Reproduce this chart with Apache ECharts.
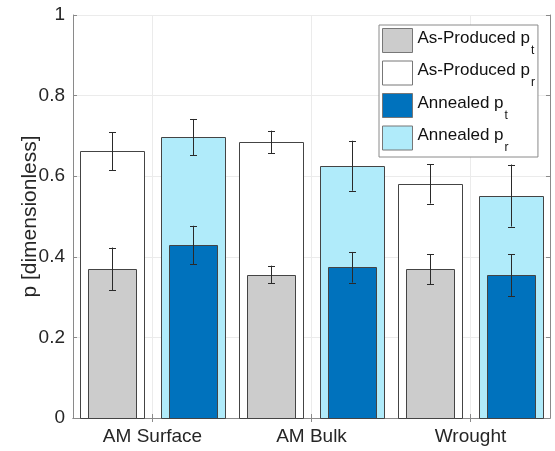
<!DOCTYPE html>
<html>
<head>
<meta charset="utf-8">
<script src="https://cdn.jsdelivr.net/npm/echarts@6/dist/echarts.min.js"></script>
<style>
html,body{margin:0;padding:0;background:#fff;}
#chart{width:555px;height:451px;}
</style>
</head>
<body>
<div id="chart"></div>
<script>
var categories = ['AM Surface', 'AM Bulk', 'Wrought'];
var yTicks = [0, 0.2, 0.4, 0.6, 0.8, 1];

var asProducedPt = [0.370, 0.356, 0.369];
var asProducedPtErr = [0.053, 0.022, 0.037];
var asProducedPr = [0.662, 0.685, 0.581];
var asProducedPrErr = [0.047, 0.028, 0.049];
var annealedPt = [0.429, 0.374, 0.354];
var annealedPtErr = [0.048, 0.038, 0.052];
var annealedPr = [0.697, 0.626, 0.552];
var annealedPrErr = [0.045, 0.062, 0.077];

var seriesNames = ['As-Produced p_t', 'As-Produced p_r', 'Annealed p_t', 'Annealed p_r'];
var legendLabels = {
  'As-Produced p_t': ['As-Produced p', 't'],
  'As-Produced p_r': ['As-Produced p', 'r'],
  'Annealed p_t': ['Annealed p', 't'],
  'Annealed p_r': ['Annealed p', 'r']
};
var colors = {
  'As-Produced p_t': '#cccccc',
  'As-Produced p_r': '#ffffff',
  'Annealed p_t': '#0072bd',
  'Annealed p_r': '#b0ebfa'
};

function build(vals, errs) {
  return vals.map(function (v, i) { return [i, v, errs[i]]; });
}

function makeRender(offsetFrac, widthFrac, fill) {
  return function (params, api) {
    var idx = api.value(0), v = api.value(1), e = api.value(2);
    var band = api.size([1, 0])[0];
    var top = api.coord([idx, v]);
    var base = api.coord([idx, 0]);
    var cx = top[0] + offsetFrac * band;
    var w = widthFrac * band;
    var hi = api.coord([idx, v + e])[1];
    var lo = api.coord([idx, v - e])[1];
    var cap = 3.5;
    var lineStyle = { stroke: '#2a2a2a', lineWidth: 1 };
    return {
      type: 'group',
      children: [
        { type: 'rect', shape: { x: Math.round(cx - w / 2) + 0.5, y: Math.round(top[1]) + 0.5, width: Math.round(w), height: Math.round(base[1]) - Math.round(top[1]) },
          style: { fill: fill, stroke: '#444444', lineWidth: 1 } },
        { type: 'line', shape: { x1: Math.round(cx) + 0.5, y1: hi, x2: Math.round(cx) + 0.5, y2: lo }, style: lineStyle },
        { type: 'line', shape: { x1: Math.round(cx) + 0.5 - cap, y1: Math.round(hi) + 0.5, x2: Math.round(cx) + 0.5 + cap, y2: Math.round(hi) + 0.5 }, style: lineStyle },
        { type: 'line', shape: { x1: Math.round(cx) + 0.5 - cap, y1: Math.round(lo) + 0.5, x2: Math.round(cx) + 0.5 + cap, y2: Math.round(lo) + 0.5 }, style: lineStyle }
      ]
    };
  };
}

var OFF = 0.254, WR = 0.40, WT = 0.305;
var axisColor = '#8a8a8a';
var textColor = '#262626';
var FONT = 'Liberation Sans, Arial, Helvetica, sans-serif';

var chart = echarts.init(document.getElementById('chart'), null, { renderer: 'canvas' });
chart.setOption({
  animation: false,
  backgroundColor: '#ffffff',
  grid: { left: 73, right: 5, top: 15, bottom: 33, containLabel: false },
  legend: {
    left: 379, top: 25, orient: 'vertical',
    backgroundColor: '#ffffff', borderColor: '#8a8a8a', borderWidth: 1,
    padding: [3, 3, 3, 3], itemGap: 4, itemWidth: 30, itemHeight: 24,
    data: seriesNames.map(function (n) {
      return { name: n, icon: 'rect', itemStyle: { color: colors[n], borderColor: '#777777', borderWidth: 1 } };
    }),
    formatter: function (n) { return '{a|' + legendLabels[n][0] + '}{s|' + legendLabels[n][1] + '}'; },
    textStyle: {
      color: '#111111',
      rich: {
        a: { fontSize: 17, fontFamily: FONT, lineHeight: 22, verticalAlign: 'top', color: '#111111' },
        s: { fontSize: 12, fontFamily: FONT, lineHeight: 12, padding: [15, 0, 0, 1], verticalAlign: 'top', color: '#111111' }
      }
    },
    selectedMode: false
  },
  xAxis: [{
    type: 'category', data: categories, boundaryGap: true,
    axisLine: { show: true, lineStyle: { color: axisColor, width: 1 } },
    axisTick: { show: true, inside: true, alignWithLabel: true, length: 4, lineStyle: { color: axisColor } },
    splitLine: { show: true, alignWithLabel: true, lineStyle: { color: '#ebebeb', width: 1 } },
    axisLabel: { fontSize: 19, fontFamily: FONT, color: textColor, margin: 9 }
  }, {
    type: 'category', data: categories, boundaryGap: true, position: 'top',
    axisLine: { show: true, lineStyle: { color: axisColor, width: 1 } },
    axisTick: { show: true, inside: true, alignWithLabel: true, length: 4, lineStyle: { color: axisColor } },
    splitLine: { show: false }, axisLabel: { show: false }
  }],
  yAxis: [{
    type: 'value', min: 0, max: 1, interval: 0.2,
    name: 'p [dimensionless]', nameLocation: 'middle', nameRotate: 90, nameGap: 32,
    nameMoveOverlap: false,
    nameTextStyle: { fontSize: 21, fontFamily: FONT, color: textColor },
    axisLine: { show: true, lineStyle: { color: axisColor, width: 1 } },
    axisTick: { show: true, inside: true, length: 4, lineStyle: { color: axisColor } },
    splitLine: { show: true, lineStyle: { color: '#ebebeb', width: 1 } },
    axisLabel: { fontSize: 19, fontFamily: FONT, color: textColor, margin: 8,
      formatter: function (v) { return String(Math.round(v * 10) / 10); } }
  }, {
    type: 'value', min: 0, max: 1, interval: 0.2, position: 'right',
    axisLine: { show: true, lineStyle: { color: axisColor, width: 1 } },
    axisTick: { show: true, inside: true, length: 4, lineStyle: { color: axisColor } },
    splitLine: { show: false }, axisLabel: { show: false }
  }],
  series: [
    { name: 'As-Produced p_t', type: 'custom', z: 3, renderItem: makeRender(-OFF, WT, colors['As-Produced p_t']), data: build(asProducedPt, asProducedPtErr), encode: { x: 0, y: 1 } },
    { name: 'As-Produced p_r', type: 'custom', z: 2, renderItem: makeRender(-OFF, WR, colors['As-Produced p_r']), data: build(asProducedPr, asProducedPrErr), encode: { x: 0, y: 1 } },
    { name: 'Annealed p_t', type: 'custom', z: 3, renderItem: makeRender(OFF, WT, colors['Annealed p_t']), data: build(annealedPt, annealedPtErr), encode: { x: 0, y: 1 } },
    { name: 'Annealed p_r', type: 'custom', z: 2, renderItem: makeRender(OFF, WR, colors['Annealed p_r']), data: build(annealedPr, annealedPrErr), encode: { x: 0, y: 1 } }
  ]
});
</script>
</body>
</html>
